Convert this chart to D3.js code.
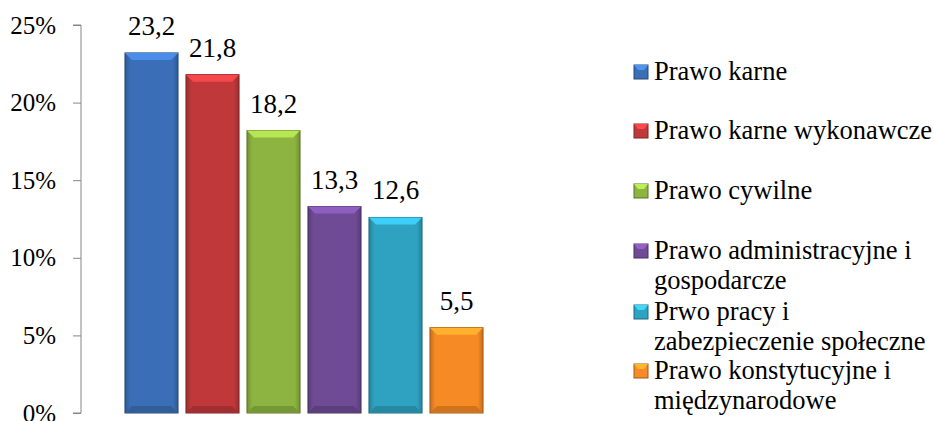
<!DOCTYPE html>
<html>
<head>
<meta charset="utf-8">
<script src="https://cdn.jsdelivr.net/npm/d3@7"></script>
</head>
<body style="margin:0">
<script>
let categories = [
  'Prawo karne',
  'Prawo karne wykonawcze',
  'Prawo cywilne',
  'Prawo administracyjne i gospodarcze',
  'Prwo pracy i zabezpieczenie społeczne',
  'Prawo konstytucyjne i międzynarodowe'
];
let values = [23.2, 21.8, 18.2, 13.3, 12.6, 5.5];
let valueLabels = ['23,2', '21,8', '18,2', '13,3', '12,6', '5,5'];
let legendLines = [
  ['Prawo karne'],
  ['Prawo karne wykonawcze'],
  ['Prawo cywilne'],
  ['Prawo administracyjne i', 'gospodarcze'],
  ['Prwo pracy i', 'zabezpieczenie społeczne'],
  ['Prawo konstytucyjne i', 'międzynarodowe']
];
let yTicks = [0, 5, 10, 15, 20, 25];
let colors = ['#3a6fb7', '#c0383a', '#8db440', '#6f4a95', '#2fa2c2', '#f68a24'];

let serif = 'Tinos, "Liberation Serif", Times, serif';

let canvas = d3.select('body')
  .append('svg')
  .attr('width', 934)
  .attr('height', 421)
  .style('font-family', serif);

let defs = canvas.append('defs');
colors.forEach((c, i) => {
  let g = defs.append('linearGradient')
    .attr('id', 'grad' + i)
    .attr('x1', 0).attr('x2', 1).attr('y1', 0).attr('y2', 0);
  let dark = d3.color(c).darker(0.6);
  g.append('stop').attr('offset', '0%').attr('stop-color', dark);
  g.append('stop').attr('offset', '10%').attr('stop-color', c);
  g.append('stop').attr('offset', '90%').attr('stop-color', c);
  g.append('stop').attr('offset', '100%').attr('stop-color', dark);
});

let x = d3.scaleBand()
  .domain(categories)
  .range([121, 487])
  .paddingInner(0.13)
  .paddingOuter(0.065);

let y = d3.scaleLinear()
  .domain([0, 25])
  .range([413, 25]);

let yAxis = canvas.append('g')
  .attr('transform', 'translate(81,0)')
  .call(d3.axisLeft(y).tickValues(yTicks).tickSize(8).tickPadding(17)
    .tickFormat(d => d + '%'));
yAxis.attr('font-family', null).attr('font-size', 25);
yAxis.select('.domain').attr('stroke', '#868686').attr('d', `M-8,${y(25)}H0V${y(0)}H-8`);
yAxis.selectAll('.tick line').attr('stroke', '#868686');
yAxis.selectAll('.tick text')
  .attr('fill', '#000')
  .style('font-family', serif);

let bars = canvas.append('g')
  .selectAll('g')
  .data(values)
  .join('g');

bars.append('rect')
  .attr('x', (d, i) => x(categories[i]))
  .attr('y', d => y(d))
  .attr('width', x.bandwidth())
  .attr('height', d => y(0) - y(d))
  .attr('fill', (d, i) => `url(#grad${i})`)
  .attr('stroke', (d, i) => d3.color(colors[i]).darker(1.2))
  .attr('stroke-width', 1);

// top bevel
let bev = 7;
bars.append('path')
  .attr('d', (d, i) => {
    let x0 = x(categories[i]), x1 = x0 + x.bandwidth(), t = y(d);
    return `M${x0},${t}L${x1},${t}L${x1 - bev},${t + bev}L${x0 + bev},${t + bev}Z`;
  })
  .attr('fill', (d, i) => d3.color(colors[i]).brighter(0.7));

// bottom bevel
bars.append('path')
  .attr('d', (d, i) => {
    let x0 = x(categories[i]), x1 = x0 + x.bandwidth(), b = y(0);
    return `M${x0},${b}L${x1},${b}L${x1 - bev},${b - bev}L${x0 + bev},${b - bev}Z`;
  })
  .attr('fill', (d, i) => d3.color(colors[i]).darker(0.5));

bars.append('text')
  .attr('x', (d, i) => x(categories[i]) + x.bandwidth() / 2)
  .attr('y', d => y(d) - 18)
  .attr('text-anchor', 'middle')
  .style('font-family', serif)
  .attr('font-size', 27)
  .text((d, i) => valueLabels[i]);

// legend
let legendY = [80, 139, 199, 259, 320, 379];
let legend = canvas.append('g')
  .selectAll('g')
  .data(legendLines)
  .join('g')
  .attr('transform', (d, i) => `translate(634,${legendY[i]})`);

legend.append('rect')
  .attr('x', 0).attr('y', -15)
  .attr('width', 14).attr('height', 14)
  .attr('fill', (d, i) => colors[i])
  .attr('stroke', (d, i) => d3.color(colors[i]).darker(1.2));
legend.append('path')
  .attr('d', 'M0,-15L14,-15L10,-10L4,-10Z')
  .attr('fill', (d, i) => d3.color(colors[i]).brighter(0.8));

legend.each(function (lines) {
  let t = d3.select(this).append('text')
    .attr('x', 20)
    .attr('y', 0)
    .style('font-family', serif)
    .attr('font-size', 26.5);
  lines.forEach((line, j) => {
    t.append('tspan').attr('x', 20).attr('dy', j === 0 ? 0 : 29.5).text(line);
  });
});
</script>
</body>
</html>
